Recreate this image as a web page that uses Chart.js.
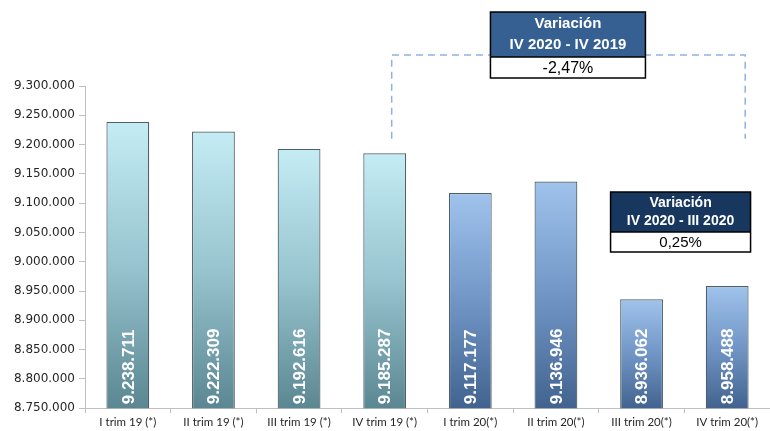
<!DOCTYPE html>
<html>
<head>
<meta charset="utf-8">
<script src="https://cdn.jsdelivr.net/npm/chart.js@4"></script>
<style>
  html, body { margin: 0; padding: 0; background: #ffffff; }
  #wrap { width: 770px; height: 431px; position: relative; }
</style>
</head>
<body>
<div id="wrap"><canvas id="chart" width="770" height="431"></canvas></div>
<script>
const categories = ['I trim 19 (*)', 'II trim 19 (*)', 'III trim 19 (*)', 'IV trim 19 (*)',
                    'I trim 20(*)', 'II trim 20(*)', 'III trim 20(*)', 'IV trim 20(*)'];
const values = [9238711, 9222309, 9192616, 9185287, 9117177, 9136946, 8936062, 8958488];
const yMin = 8750000;
const yMax = 9300000;
const yStep = 50000;
const boxYear = { title: ['Variación', 'IV 2020 - IV 2019'], value: '-2,47%' };
const boxQuarter = { title: ['Variación', 'IV 2020 - III 2020'], value: '0,25%' };

function fmt(v) {
    return Math.round(v).toString().replace(/\B(?=(\d{3})+(?!\d))/g, '.');
}

// light teal for 2019, blue for 2020
function barFill(context) {
    const chart = context.chart;
    const area = chart.chartArea;
    const i = context.dataIndex;
    const is2019 = i < 4;
    if (!area || !chart.scales.y) return is2019 ? '#a9d9e4' : '#7fa5d4';
    const top = chart.scales.y.getPixelForValue(values[i]);
    const g = chart.ctx.createLinearGradient(0, top, 0, area.bottom);
    if (is2019) {
        g.addColorStop(0, '#c4ecf5');
        g.addColorStop(0.5, '#97c4ce');
        g.addColorStop(1, '#5b8792');
    } else {
        g.addColorStop(0, '#a0c3ec');
        g.addColorStop(0.5, '#7196c6');
        g.addColorStop(1, '#42638f');
    }
    return g;
}

const overlay = {
    id: 'overlay',
    afterDatasetsDraw(chart) {
        const ctx = chart.ctx;
        const y = chart.scales.y;
        const meta = chart.getDatasetMeta(0);

        // value labels rotated inside bars
        ctx.save();
        ctx.fillStyle = '#ffffff';
        ctx.font = 'bold 17px "Liberation Sans", Arial, sans-serif';
        ctx.textAlign = 'left';
        ctx.textBaseline = 'middle';
        meta.data.forEach((bar, i) => {
            ctx.save();
            ctx.translate(bar.x + 1, y.bottom - 4);
            ctx.rotate(-Math.PI / 2);
            ctx.fillText(fmt(values[i]), 0, 0);
            ctx.restore();
        });
        ctx.restore();

        // dashed bracket
        const bl = meta.data[3].x + 7;
        const br = meta.data[7].x + 18;
        const bTop = 55;
        const bBot = y.getPixelForValue(9210000);
        ctx.save();
        ctx.strokeStyle = '#8db3e2';
        ctx.lineWidth = 1.5;
        ctx.setLineDash([7, 5]);
        ctx.beginPath();
        ctx.moveTo(bl, bBot);
        ctx.lineTo(bl, bTop);
        ctx.lineTo(br, bTop);
        ctx.lineTo(br, bBot);
        ctx.stroke();
        ctx.restore();

        drawBox(ctx, boxYear, (bl + br) / 2 - 78, 12, 155, 45, 21, '#366092', 'bold 15px', 'normal 16px');
        drawBox(ctx, boxQuarter, meta.data[6].x - 31, 192, 140, 40, 20, '#17375e', 'bold 14px', 'normal 15px');
    }
};

function drawBox(ctx, box, left, top, w, hHead, hVal, color, headFont, valFont) {
    ctx.save();
    ctx.fillStyle = color;
    ctx.fillRect(left, top, w, hHead);
    ctx.fillStyle = '#ffffff';
    ctx.fillRect(left, top + hHead, w, hVal);
    ctx.strokeStyle = '#000000';
    ctx.lineWidth = 1.5;
    ctx.strokeRect(left, top, w, hHead + hVal);
    ctx.beginPath();
    ctx.moveTo(left, top + hHead);
    ctx.lineTo(left + w, top + hHead);
    ctx.stroke();
    ctx.textAlign = 'center';
    ctx.textBaseline = 'middle';
    ctx.fillStyle = '#ffffff';
    ctx.font = headFont + ' "Liberation Sans", Arial, sans-serif';
    ctx.fillText(box.title[0], left + w / 2, top + hHead * 0.27);
    ctx.fillText(box.title[1], left + w / 2, top + hHead * 0.74);
    ctx.fillStyle = '#000000';
    ctx.font = valFont + ' "Liberation Sans", Arial, sans-serif';
    ctx.fillText(box.value, left + w / 2, top + hHead + hVal / 2 + 1);
    ctx.restore();
}

const ctx = document.getElementById('chart').getContext('2d');
const chart = new Chart(ctx, {
    type: 'bar',
    data: {
        labels: categories,
        datasets: [{
            data: values,
            backgroundColor: barFill,
            borderColor: '#4f5f66',
            borderWidth: 1.2,
            barPercentage: 0.5,
            categoryPercentage: 1.0
        }]
    },
    options: {
        responsive: false,
        animation: false,
        layout: {
            padding: { top: 86, right: 0, left: 0, bottom: 0 }
        },
        scales: {
            x: {
                grid: {
                    display: true,
                    drawOnChartArea: false,
                    offset: true,
                    color: '#bfbfbf',
                    tickLength: 5
                },
                border: { color: '#bfbfbf' },
                ticks: {
                    color: '#262626',
                    font: { family: 'Lato, "DejaVu Sans", sans-serif', size: 11.5 },
                    maxRotation: 0,
                    autoSkip: false,
                    padding: 2
                }
            },
            y: {
                min: yMin,
                max: yMax,
                afterFit: function(scale) { scale.width = 85; },
                grid: {
                    drawOnChartArea: false,
                    color: '#bfbfbf',
                    tickLength: 6
                },
                border: { color: '#bfbfbf' },
                ticks: {
                    stepSize: yStep,
                    color: '#262626',
                    padding: 4,
                    font: { family: '"DejaVu Sans", sans-serif', size: 12 },
                    callback: function(value) { return fmt(value); }
                }
            }
        },
        plugins: {
            legend: { display: false },
            tooltip: { enabled: false },
            title: { display: false }
        }
    },
    plugins: [overlay]
});
</script>
</body>
</html>
